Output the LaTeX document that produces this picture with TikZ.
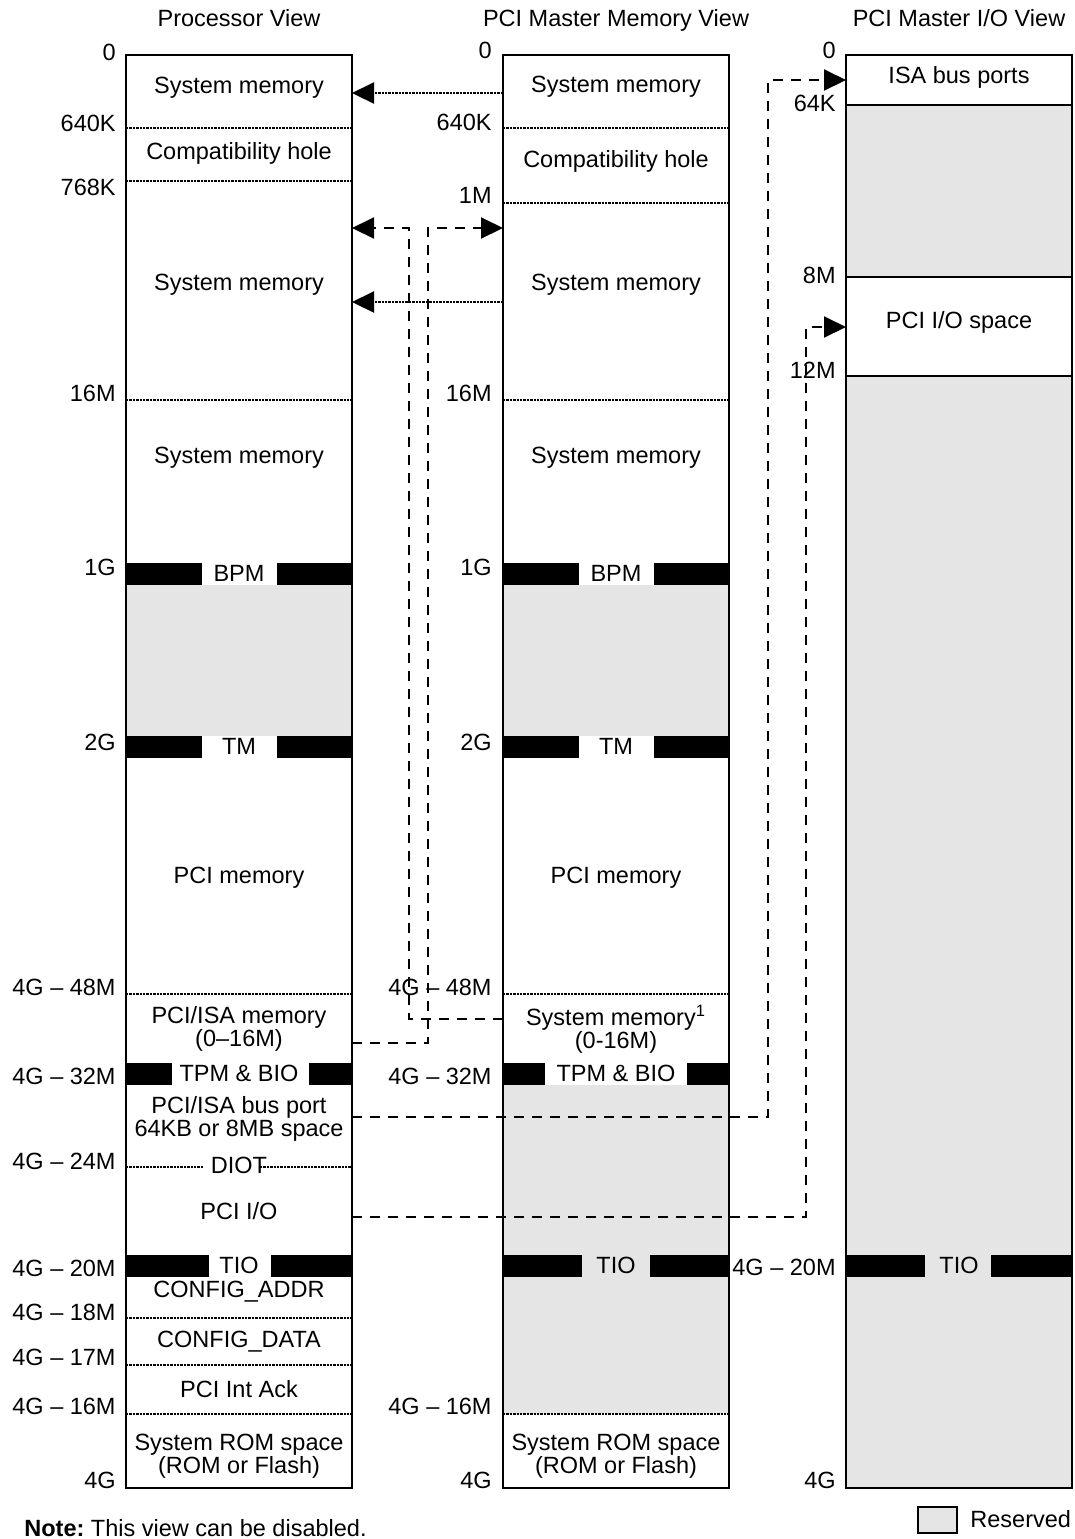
\documentclass[tikz,border=0pt]{standalone}
\usepackage{fontspec}
\setmainfont{Liberation Sans}
\usetikzlibrary{arrows.meta}
\definecolor{rsvgray}{RGB}{229,229,229}
% black bar with a gap for its label
\newcommand{\gapbar}[5]{\fill (#1,#5) rectangle (#2,#5+22); \fill (#3,#5) rectangle (#4,#5+22);}

\begin{document}
\begin{tikzpicture}[x=0.5pt,y=-0.5pt,
  every node/.style={font=\fontsize{11.75}{11.5}\selectfont,inner sep=0pt},
  rsv/.style={fill=rsvgray},
  sep/.style={line width=1pt,dash pattern=on 1.2pt off 0.5pt},
  col/.style={line width=1.2pt},
  addr/.style={anchor=east},
  txt/.style={align=center},
  ttl/.style={anchor=base},
  dsh/.style={line width=1pt,dash pattern=on 5pt off 4pt},
  dtt/.style={line width=1.1pt,dash pattern=on 1.2pt off 0.5pt},
  tip/.style={-{Triangle[length=11pt,width=10.5pt]}}]
\useasboundingbox (0,0) rectangle (1075,1539);

% reserved areas
\fill[rsv] (126,585) rectangle (352,736);
\fill[rsv] (503,585) rectangle (729,736);
\fill[rsv] (503,1085) rectangle (729,1414);
\fill[rsv] (846,105) rectangle (1072,277);
\fill[rsv] (846,376) rectangle (1072,1488);

% dividers
\foreach \y in {128,181,400,994,1318,1365,1414}
  \draw[sep] (126,\y) -- (352,\y);
\draw[sep] (126,1167) -- (203,1167);
\draw[sep] (260,1167) -- (352,1167);
\foreach \y in {128,203,400,994,1414}
  \draw[sep] (503,\y) -- (729,\y);
\foreach \y in {105,277,376}
  \draw[line width=1pt] (846,\y) -- (1072,\y);

% bars
\gapbar{126}{202}{277}{352}{563}
\gapbar{126}{202}{277}{352}{736}
\gapbar{126}{172}{309}{352}{1063}
\gapbar{126}{209}{271}{352}{1255}
\gapbar{503}{579}{654}{729}{563}
\gapbar{503}{579}{654}{729}{736}
\gapbar{503}{545}{687}{729}{1063}
\gapbar{503}{582}{650}{729}{1255}
\gapbar{846}{925}{991}{1072}{1255}

% columns
\draw[col] (126,55) rectangle (352,1488);
\draw[col] (503,55) rectangle (729,1488);
\draw[col] (846,55) rectangle (1072,1488);

% titles
\node[ttl] (tProc) at (239,26) {Processor View};
\node[ttl] (tMem) at (616,26) {PCI Master Memory View};
\node[ttl] (tIO) at (959,26) {PCI Master I/O View};

% processor view
\node (pSysA) at (239,88) {System memory};
\node (pHole) at (239,153) {Compatibility hole};
\node (pSysB) at (239,285) {System memory};
\node (pSysC) at (239,458) {System memory};
\node (pBPM) at (239,573) {BPM};
\node (pTM) at (239,746) {TM};
\node (pMem) at (239,878) {PCI memory};
\node[txt] (pIsaM) at (239,1029) {PCI/ISA memory\\(0–16M)};
\node (pTPM) at (239,1073) {TPM \& BIO};
\node[txt] (pIsaP) at (239,1119) {PCI/ISA bus port\\64KB or 8MB space};
\node (pDIOT) at (239,1165) {DIOT};
\node (pIO) at (239,1211) {PCI I/O};
\node (pTIO) at (239,1265) {TIO};
\node (pCAddr) at (239,1292) {CONFIG\_ADDR};
\node (pCData) at (239,1342) {CONFIG\_DATA};
\node (pAck) at (239,1389) {PCI Int Ack};
\node[txt] (pROM) at (239,1456) {System ROM space\\(ROM or Flash)};

\node[addr] (pa0) at (116,52) {0};
\node[addr] (pa1) at (116,123) {640K};
\node[addr] (pa2) at (116,187) {768K};
\node[addr] (pa3) at (116,393) {16M};
\node[addr] (pa4) at (116,567) {1G};
\node[addr] (pa5) at (116,742) {2G};
\node[addr] (pa6) at (116,987) {4G – 48M};
\node[addr] (pa7) at (116,1076) {4G – 32M};
\node[addr] (pa8) at (116,1161) {4G – 24M};
\node[addr] (pa9) at (116,1268) {4G – 20M};
\node[addr] (pa10) at (116,1312) {4G – 18M};
\node[addr] (pa11) at (116,1357) {4G – 17M};
\node[addr] (pa12) at (116,1406) {4G – 16M};
\node[addr] (pa13) at (116,1480) {4G};

% pci master memory view
\node (mSysA) at (616,87) {System memory};
\node (mHole) at (616,161) {Compatibility hole};
\node (mSysB) at (616,285) {System memory};
\node (mSysC) at (616,458) {System memory};
\node (mBPM) at (616,573) {BPM};
\node (mTM) at (616,746) {TM};
\node (mMem) at (616,878) {PCI memory};
\node[txt] (mSysD) at (616,1029) {System memory\textsuperscript{1}\\(0-16M)};
\node (mTPM) at (616,1073) {TPM \& BIO};
\node (mTIO) at (616,1265) {TIO};
\node[txt] (mROM) at (616,1456) {System ROM space\\(ROM or Flash)};

\node[addr] (ma0) at (492,50) {0};
\node[addr] (ma1) at (492,122) {640K};
\node[addr] (ma2) at (492,195) {1M};
\node[addr] (ma3) at (492,393) {16M};
\node[addr] (ma4) at (492,567) {1G};
\node[addr] (ma5) at (492,742) {2G};
\node[addr] (ma6) at (492,987) {4G – 48M};
\node[addr] (ma7) at (492,1076) {4G – 32M};
\node[addr] (ma8) at (492,1406) {4G – 16M};
\node[addr] (ma9) at (492,1480) {4G};

% pci master i/o view
\node (iIsa) at (959,77) {ISA bus ports};
\node (iIO) at (959,322) {PCI I/O space};
\node (iTIO) at (959,1265) {TIO};

\node[addr] (ia0) at (836,50) {0};
\node[addr] (ia1) at (836,103) {64K};
\node[addr] (ia2) at (836,275) {8M};
\node[addr] (ia3) at (836,370) {12M};
\node[addr] (ia4) at (836,1267) {4G – 20M};
\node[addr] (ia5) at (836,1480) {4G};

% connectors
\coordinate (mA) at (503,93);
\coordinate (pA) at (352,93);
\coordinate (mB) at (503,302);
\coordinate (pB) at (352,302);
\coordinate (mC) at (503,228);
\coordinate (pC) at (352,228);
\coordinate (mD) at (503,1019);
\coordinate (pD) at (352,1043);
\coordinate (pE) at (352,1117);
\coordinate (pF) at (352,1217);
\coordinate (iA) at (846,80);
\coordinate (iB) at (846,327);
\coordinate (kA) at (409,228);
\coordinate (kB) at (428,228);
\coordinate (kC) at (768,80);
\coordinate (kD) at (806,327);

\draw[dtt,tip] (mA) -- (pA);
\draw[dtt,tip] (mB) -- (pB);
\draw[dsh,tip] (mD) -| (kA) -- (pC);
\draw[dsh,tip] (pD) -| (kB) -- (mC);
\draw[dsh,tip] (pE) -| (kC) -- (iA);
\draw[dsh,tip] (pF) -| (kD) -- (iB);

% note and key
\node[anchor=west] (note) at (24,1528) {\textbf{Note:}\ This view can be disabled.};
\draw[rsv,line width=1pt] (918,1507) rectangle (957,1533);
\node[anchor=west] (key) at (970,1519) {Reserved};
\end{tikzpicture}
\end{document}
